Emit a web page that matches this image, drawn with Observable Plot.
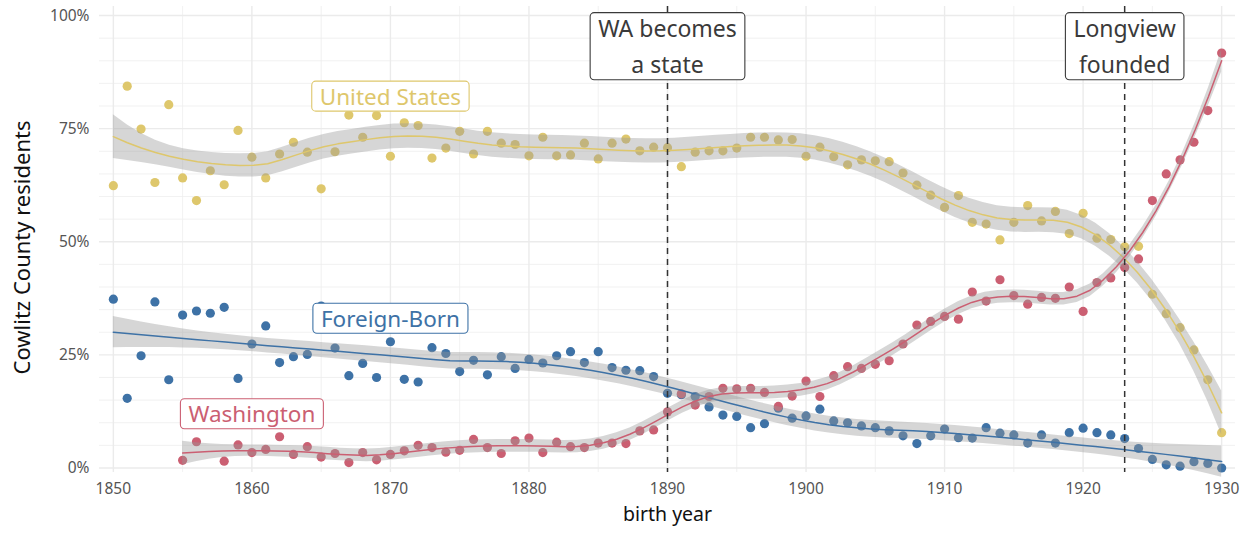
<!DOCTYPE html>
<html><head><meta charset="utf-8">
<script src="https://cdn.jsdelivr.net/npm/d3@7"></script>
<script src="https://cdn.jsdelivr.net/npm/@observablehq/plot@0.6"></script>
<style>body{margin:0;background:#fff}</style></head>
<body><div id="chart"></div>
<script>
// ---- data ----
const years = [1850,1851,1852,1853,1854,1855,1856,1857,1858,1859,1860,1861,1862,1863,1864,1865,1866,1867,1868,1869,
1870,1871,1872,1873,1874,1875,1876,1877,1878,1879,1880,1881,1882,1883,1884,1885,1886,1887,1888,1889,
1890,1891,1892,1893,1894,1895,1896,1897,1898,1899,1900,1901,1902,1903,1904,1905,1906,1907,1908,1909,
1910,1911,1912,1913,1914,1915,1916,1917,1918,1919,1920,1921,1922,1923,1924,1925,1926,1927,1928,1929,1930];

const unitedStates = [62.4,84.4,74.9,63.1,80.3,64.1,59.1,65.7,62.6,74.6,68.7,64.1,69.4,72.0,69.8,61.7,69.9,78.0,73.1,77.9,
68.9,76.3,75.7,68.5,70.7,74.4,69.4,74.4,71.8,71.5,69.0,73.1,69.0,69.2,71.8,68.3,71.8,72.7,70.1,70.9,
70.8,66.6,69.8,70.1,70.1,70.7,73.1,73.1,72.5,72.6,68.9,70.9,68.8,67.0,68.1,67.9,67.7,65.2,62.5,60.3,
57.6,60.2,54.3,53.9,50.4,54.3,58.0,54.6,56.7,51.8,56.3,50.8,50.5,48.9,49.0,38.4,34.1,31.0,26.1,19.5,7.8];

const foreignBorn = [37.3,15.4,24.8,36.7,19.5,33.8,34.7,34.2,35.5,19.8,27.4,31.4,23.3,24.6,25.1,35.8,26.5,20.4,23.1,20.0,
27.9,19.6,19.0,26.6,25.3,21.3,23.8,20.6,24.6,22.0,24.0,23.2,24.8,25.7,23.3,25.7,22.2,21.6,21.5,20.2,
16.5,16.2,15.8,13.5,11.7,11.4,8.9,9.8,13.2,11.0,11.5,13.0,10.4,10.0,9.3,8.9,8.2,7.1,5.4,7.1,
8.6,6.7,6.6,8.9,7.7,7.3,5.5,7.3,5.5,7.8,8.8,7.8,7.3,6.5,4.3,1.9,0.7,0.4,1.4,1.0,0.0];

const washington = [null,null,null,null,null,1.7,5.8,null,1.5,5.1,3.4,4.1,6.9,3.0,4.7,2.4,3.2,1.2,3.4,1.8,
3.0,3.8,5.0,4.5,3.5,3.9,6.3,4.5,3.2,6.0,6.6,3.4,5.7,4.7,4.5,5.5,5.5,5.4,8.2,8.4,
12.4,16.4,13.9,15.8,17.6,17.5,17.6,16.7,13.6,15.9,19.2,15.8,20.4,22.4,22.0,22.9,23.7,27.4,31.6,32.4,
33.5,32.9,38.9,36.9,41.6,38.1,36.2,37.7,37.5,40.0,34.6,41.0,42.0,44.3,46.2,59.1,65.0,68.1,72.0,79.0,91.7];

const seriesNames = ["Foreign-Born", "United States", "Washington"];
const seriesColors = ["#3E72A6", "#DEC76C", "#CB5F72"];
const seriesSpans = [0.62, 0.31, 0.28];

const seriesLabelX = [1870, 1870, 1860];
const seriesLabelY = [32.8, 81.9, 11.7];

const eventYears = [1890, 1923];
const eventLabels = ["WA becomes\na state", "Longview\nfounded"];
const eventLabelY = 93.8;

const yTicks = [0, 25, 50, 75, 100];
const yMinor = [5,10,15,20,30,35,40,45,55,60,65,70,80,85,90,95];
const xTicks = [1850, 1860, 1870, 1880, 1890, 1900, 1910, 1920, 1930];
const xMinor = [1855, 1865, 1875, 1885, 1895, 1905, 1915, 1925];

// ---- local quadratic regression (loess) with standard errors ----
function inv3(m) {
  const [a,b,c] = m[0], [d,e,f] = m[1], [g,h,i] = m[2];
  const A = e*i-f*h, B = -(d*i-f*g), C = d*h-e*g;
  const det = a*A + b*B + c*C;
  return [
    [A/det, -(b*i-c*h)/det, (b*f-c*e)/det],
    [B/det, (a*i-c*g)/det, -(a*f-c*d)/det],
    [C/det, -(a*h-b*g)/det, (a*e-b*d)/det]
  ];
}
function smootherRow(xs, x0, span) {
  const n = xs.length, q = Math.max(3, Math.floor(n * span));
  const d = xs.map(x => Math.abs(x - x0));
  const h = d.slice().sort((p, r) => p - r)[Math.min(q, n) - 1] * 1.0001;
  const w = d.map(di => di < h ? Math.pow(1 - Math.pow(di / h, 3), 3) : 0);
  const S = [[0,0,0],[0,0,0],[0,0,0]];
  xs.forEach((x, k) => {
    const u = (x - x0) / h, row = [1, u, u*u];
    for (let p = 0; p < 3; p++) for (let r = 0; r < 3; r++) S[p][r] += w[k] * row[p] * row[r];
  });
  const I = inv3(S);
  return xs.map((x, k) => { const u = (x - x0) / h; return w[k] * (I[0][0] + I[0][1]*u + I[0][2]*u*u); });
}
function smooth(xs, ys, span, nOut) {
  const n = xs.length;
  const L = xs.map(x => smootherRow(xs, x, span));
  let rss = 0, delta1 = 0;
  for (let i = 0; i < n; i++) {
    let f = 0; for (let j = 0; j < n; j++) f += L[i][j] * ys[j];
    rss += (ys[i] - f) ** 2;
  }
  for (let i = 0; i < n; i++) for (let j = 0; j < n; j++) {
    const v = (i === j ? 1 : 0) - L[i][j]; delta1 += v * v;
  }
  const sigma = Math.sqrt(rss / delta1);
  const x0 = d3.min(xs), x1 = d3.max(xs), out = [];
  for (let k = 0; k < nOut; k++) {
    const x = x0 + (x1 - x0) * k / (nOut - 1);
    const l = smootherRow(xs, x, span);
    let f = 0, s2 = 0;
    for (let j = 0; j < n; j++) { f += l[j] * ys[j]; s2 += l[j] * l[j]; }
    const se = sigma * Math.sqrt(s2);
    out.push({x, fit: f, lo: f - 1.99 * se, hi: f + 1.99 * se});
  }
  return out;
}

// ---- tidy tables ----
const valuesBySeries = [foreignBorn, unitedStates, washington];
const points = [];
const smooths = [];
seriesNames.forEach((name, s) => {
  const xs = [], ys = [];
  years.forEach((yr, i) => {
    const v = valuesBySeries[s][i];
    if (v != null) { points.push({year: yr, value: v, series: name}); xs.push(yr); ys.push(v); }
  });
  smooths.push(smooth(xs, ys, seriesSpans[s], 80).map(d => ({...d, series: name})));
});
const seriesLabels = seriesNames.map((n, i) => ({name: n, x: seriesLabelX[i], y: seriesLabelY[i], color: seriesColors[i]}));
const events = eventYears.map((yr, i) => ({year: yr, label: eventLabels[i], y: eventLabelY}));

const color = {domain: seriesNames, range: seriesColors};
const FONT = "'Noto Sans', Lato, sans-serif";

const marks = [
  Plot.ruleY(yMinor, {stroke: "#EEEEEE", strokeWidth: 0.8}),
  Plot.ruleX(xMinor, {stroke: "#EEEEEE", strokeWidth: 0.8}),
  Plot.ruleY(yTicks, {stroke: "#EBEBEB", strokeWidth: 1.4}),
  Plot.ruleX(xTicks, {stroke: "#EBEBEB", strokeWidth: 1.4}),
  Plot.axisY({ticks: yTicks, tickSize: 0, tickPadding: 10, tickFormat: d => d + "%", fontSize: 15.5, color: "#555", label: null}),
  Plot.axisX({ticks: xTicks, tickSize: 0, tickPadding: 10, tickFormat: d => String(d), fontSize: 15.5, color: "#555", label: null}),
  Plot.text(["birth year"], {frameAnchor: "bottom", dy: 48, fontSize: 19.5, fill: "#111", text: d => d}),
  Plot.text(["Cowlitz County residents"], {frameAnchor: "left", textAnchor: "middle", dx: -77, dy: 8, rotate: -90, fontSize: 22, fill: "#111", text: d => d}),
  Plot.dot(points, {x: "year", y: "value", fill: "series", r: 4.6, stroke: null})
];
smooths.forEach((sm, i) => {
  marks.push(Plot.areaY(sm, {x: "x", y1: "lo", y2: "hi", fill: "#999", fillOpacity: 0.4}));
  marks.push(Plot.line(sm, {x: "x", y: "fit", stroke: seriesColors[i], strokeWidth: 1.5}));
});
marks.push(
  Plot.ruleX(eventYears, {stroke: "#333", strokeWidth: 1.5, strokeDasharray: "6,5"}),
  Plot.text(events, {x: "year", y: "y", text: "label", fontSize: 23, lineHeight: 1.57, fill: "#3a3a3a"}),
  Plot.text(seriesLabels, {x: "x", y: "y", text: "name", fill: "color", fontSize: 22.5})
);

const chart = Plot.plot({
  width: 1248, height: 534,
  marginLeft: 99, marginRight: 13, marginTop: 6, marginBottom: 62,
  x: {domain: [1849, 1931]},
  y: {domain: [-1, 102]},
  color,
  style: {fontFamily: FONT, background: "#fff"},
  marks
});
document.getElementById("chart").appendChild(chart);

// draw rounded label boxes behind the label texts (sized from the rendered text)
const boxed = new Map();
events.forEach(e => boxed.set(e.label.replace(/\n/g, ""), "#3a3a3a"));
seriesLabels.forEach(s => boxed.set(s.name, s.color));
chart.querySelectorAll("text").forEach(t => {
  const key = t.textContent;
  if (!boxed.has(key)) return;
  const bb = t.getBBox();
  const padX = 8, padY = -0.5;
  const rect = document.createElementNS("http://www.w3.org/2000/svg", "rect");
  rect.setAttribute("x", bb.x - padX);
  rect.setAttribute("y", bb.y - padY);
  rect.setAttribute("width", bb.width + 2 * padX);
  rect.setAttribute("height", bb.height + 2 * padY);
  rect.setAttribute("rx", 4);
  rect.setAttribute("fill", "#fff");
  rect.setAttribute("stroke", boxed.get(key));
  rect.setAttribute("stroke-width", 1.1);
  if (t.getAttribute("transform")) rect.setAttribute("transform", t.getAttribute("transform"));
  t.parentNode.insertBefore(rect, t);
});
</script></body></html>
